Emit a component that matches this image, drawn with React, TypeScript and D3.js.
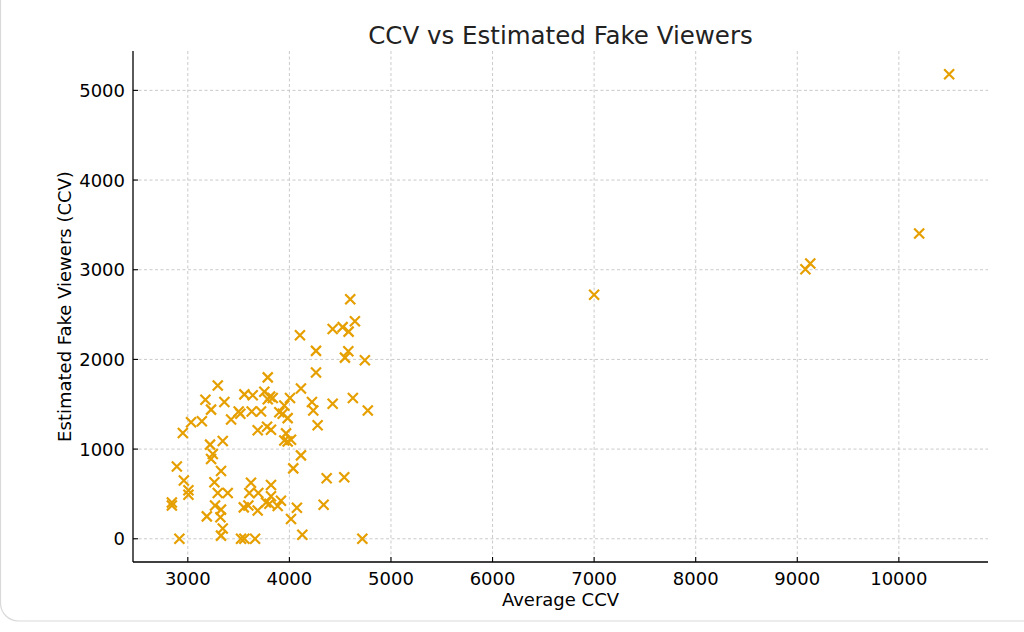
import React from "react";
import * as d3 from "d3";

// Average CCV per channel (x) and estimated fake viewers (y)
const averageCcv = [
  3295, 3173, 3360, 3229, 3032, 3138, 2951, 3557, 3639, 3501, 3517, 3426,
  3629, 3721, 3753, 3787, 3688, 3780, 3219, 3344, 3246, 3787, 3229, 2892,
  3327, 2961, 3262, 3622, 3006, 3006, 3295, 3393, 3606, 3694, 2843, 2843,
  3268, 3327, 3551, 3596, 3688, 3187, 3321, 3344, 3327, 2917, 3524, 3557,
  3662, 4599, 4645, 4524, 4426, 4583, 4104, 4262, 4580, 4547, 4743, 4262,
  4114, 4006, 3810, 3836, 4222, 4426, 4625, 4772, 4235, 3950, 3901, 3934,
  3983, 4278, 3819, 3967, 3950, 3983, 4016, 4114, 4038, 4367, 4540, 3819,
  3819, 3917, 3770, 3803, 3885, 4074, 4337, 4016, 4127, 4718, 7000, 9080,
  9128, 10200, 10495,
];
const fakeViewers = [
  1710, 1550, 1525, 1440, 1300, 1310, 1180, 1610, 1600, 1420, 1395, 1330,
  1420, 1420, 1640, 1555, 1210, 1250, 1050, 1090, 945, 1800, 890, 805,
  755, 650, 630, 625, 540, 490, 510, 510, 510, 510, 405, 370,
  370, 325, 350, 370, 315, 250, 240, 115, 35, 0, 0, 0,
  0, 2670, 2425, 2360, 2340, 2310, 2270, 2095, 2090, 2020, 1990, 1855,
  1675, 1570, 1585, 1570, 1525, 1505, 1570, 1430, 1430, 1485, 1410, 1395,
  1345, 1265, 1215, 1175, 1095, 1085, 1105, 930, 785, 675, 685, 600,
  475, 425, 405, 390, 365, 345, 380, 220, 45, 0, 2720, 3005,
  3070, 3405, 5180,
];
const xTicks = [3000, 4000, 5000, 6000, 7000, 8000, 9000, 10000];
const yTicks = [0, 1000, 2000, 3000, 4000, 5000];

const W = 1024;
const H = 632;
const left = 133;
const right = 988;
const top = 51;
const bottom = 562;
const font = "DejaVu Sans, sans-serif";
const markerColor = "#E69F00";

export default function App() {
  const xPad = (d3.max(averageCcv)! - d3.min(averageCcv)!) * 0.05;
  const yPad = (d3.max(fakeViewers)! - d3.min(fakeViewers)!) * 0.05;
  const x = d3
    .scaleLinear()
    .domain([d3.min(averageCcv)! - xPad, d3.max(averageCcv)! + xPad])
    .range([left, right]);
  const y = d3
    .scaleLinear()
    .domain([d3.min(fakeViewers)! - yPad, d3.max(fakeViewers)! + yPad])
    .range([bottom, top]);

  const points = averageCcv.map((v, i) => ({ cx: x(v), cy: y(fakeViewers[i]) }));
  const s = 5;

  return (
    <svg
      width={W}
      height={H}
      style={{ position: "absolute", left: 0, top: 0, background: "#fff" }}
      fontFamily={font}
    >
      <rect x={0.5} y={-40} width={1200} height={661} rx={18} fill="none" stroke="#d9d9d9" strokeWidth={1.2} />

      {/* grid */}
      {xTicks.map((t) => (
        <line key={"gx" + t} x1={x(t)} x2={x(t)} y1={top} y2={bottom} stroke="#c4c4c4" strokeWidth={0.9} strokeDasharray="3,2.5" />
      ))}
      {yTicks.map((t) => (
        <line key={"gy" + t} x1={left} x2={right} y1={y(t)} y2={y(t)} stroke="#c4c4c4" strokeWidth={0.9} strokeDasharray="3,2.5" />
      ))}

      {/* markers */}
      {points.map((p, i) => (
        <path
          key={i}
          d={`M${p.cx - s},${p.cy - s}L${p.cx + s},${p.cy + s}M${p.cx - s},${p.cy + s}L${p.cx + s},${p.cy - s}`}
          stroke={markerColor}
          strokeWidth={2.2}
          fill="none"
        />
      ))}

      {/* spines */}
      <line x1={left} x2={left} y1={top} y2={bottom} stroke="#000" strokeWidth={1.3} />
      <line x1={left} x2={right} y1={bottom} y2={bottom} stroke="#000" strokeWidth={1.3} />

      {/* ticks */}
      {xTicks.map((t) => (
        <g key={"tx" + t}>
          <line x1={x(t)} x2={x(t)} y1={bottom} y2={bottom - 5} stroke="#000" strokeWidth={1.1} />
          <text x={x(t)} y={bottom + 23} textAnchor="middle" fontSize={18} fill="#000">
            {t}
          </text>
        </g>
      ))}
      {yTicks.map((t) => (
        <g key={"ty" + t}>
          <line x1={left} x2={left + 5} y1={y(t)} y2={y(t)} stroke="#000" strokeWidth={1.1} />
          <text x={left - 8} y={y(t) + 6.5} textAnchor="end" fontSize={18} fill="#000">
            {t}
          </text>
        </g>
      ))}

      <text x={(left + right) / 2} y={606} textAnchor="middle" fontSize={18} fill="#000">
        Average CCV
      </text>
      <text
        transform={`translate(71,${(top + bottom) / 2}) rotate(-90)`}
        textAnchor="middle"
        fontSize={18}
        fill="#000"
      >
        Estimated Fake Viewers (CCV)
      </text>
      <text x={(left + right) / 2} y={44} textAnchor="middle" fontSize={24.5} fill="#222">
        CCV vs Estimated Fake Viewers
      </text>
    </svg>
  );
}
